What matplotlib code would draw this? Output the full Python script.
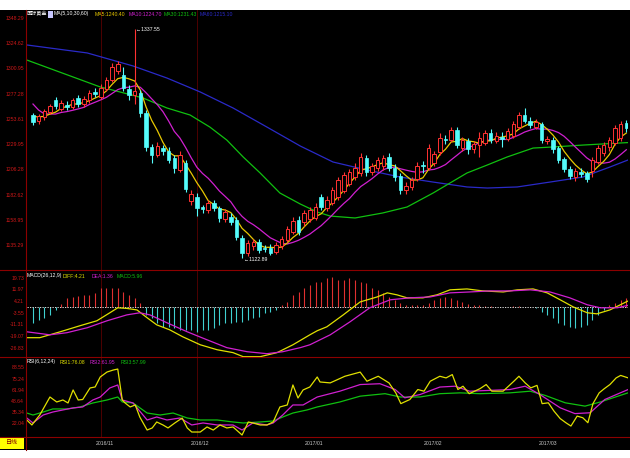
import numpy as np
import pandas as pd
import matplotlib
matplotlib.use("Agg")
import matplotlib.pyplot as plt
from matplotlib.patches import Rectangle
from matplotlib.lines import Line2D

W, H = 630, 458

# ---------------- data ----------------
opens = [1257,1252,1255,1260,1271,1263,1267,1265,1273,1268,
         1271,1279,1274,1282,1290,1299,1295,1282,1276,1278,
         1259,1227,1220,1226,1224,1217,1206,1212,1177,1180,
         1171,1168,1175,1170,1160,1162,1159,1142,1128,1134,
         1138,1133,1133,1129,1134,1140,1148,1159,1157,1160,
         1161,1180,1170,1175,1180,1186,1193,1199,1203,1217,
         1204,1208,1209,1218,1208,1200,1187,1190,1197,1210,
         1208,1212,1223,1235,1234,1243,1226,1233,1225,1229,
         1231,1240,1233,1237,1235,1238,1246,1257,1252,1246,
         1249,1233,1234,1226,1216,1207,1199,1204,1203,1205,
         1213,1222,1227,1231,1236,1250]
highs = [1259,1258,1263,1268,1274,1271,1270,1273,1276,1275,
         1281,1283,1286,1293,1306,1308,1302,1285,1337.55,1281,
         1262,1230,1232,1229,1227,1220,1224,1215,1187,1184,
         1173,1178,1178,1172,1169,1165,1162,1145,1140,1141,
         1141,1135,1136,1138,1144,1153,1162,1163,1168,1171,
         1175,1183,1181,1190,1199,1204,1207,1212,1222,1220,
         1212,1218,1220,1222,1211,1203,1194,1199,1213,1214,
         1230,1224,1240,1239,1246,1246,1237,1236,1233,1241,
         1243,1244,1241,1241,1245,1252,1260,1264,1255,1254,
         1251,1238,1237,1228,1218,1209,1208,1208,1205,1218,
         1229,1232,1237,1248,1252,1253]
lows = [1248,1249,1253,1258,1263,1261,1262,1263,1265,1265,
        1269,1274,1272,1280,1288,1296,1280,1271,1268,1255,
        1224,1212,1218,1220,1212,1203,1204,1185,1173,1163,
        1165,1165,1167,1157,1157,1154,1140,1122.89,1125,1131,
        1128,1129,1126,1127,1132,1138,1146,1145,1153,1157,
        1159,1168,1167,1173,1178,1184,1191,1196,1200,1200,
        1201,1205,1206,1205,1195,1183,1183,1187,1195,1203,
        1206,1209,1220,1230,1232,1226,1224,1221,1222,1218,
        1229,1231,1231,1227,1233,1236,1244,1250,1245,1244,
        1231,1230,1222,1212,1204,1197,1195,1199,1194,1199,
        1211,1219,1224,1229,1233,1241]
closes = [1251,1256,1261,1266,1266,1269,1265,1271,1268,1272,
          1278,1277,1283,1290,1302,1305,1283,1276,1280,1259,
          1227,1220,1228,1224,1215,1208,1220,1188,1183,1170,
          1169,1175,1170,1161,1166,1157,1143,1128,1137,1138,
          1131,1132,1128,1135,1141,1150,1158,1148,1165,1168,
          1171,1171,1178,1187,1196,1201,1204,1208,1218,1204,
          1209,1215,1217,1208,1199,1187,1191,1196,1209,1209,
          1226,1221,1236,1234,1243,1229,1234,1225,1230,1236,
          1240,1234,1238,1235,1242,1249,1257,1252,1248,1251,
          1234,1235,1225,1215,1207,1200,1205,1202,1197,1215,
          1226,1229,1234,1245,1249,1245]
prior_closes = [1313,1296,1268,1266,1254,1257,1259,1255,1257]

ma30_idx = [-1.1, 11.9, 15.4, 19.5, 23.7, 27.8, 31.3, 34.3, 37.2, 40.2, 43.7, 47.3, 50.3,
            52.6, 57.0, 61.9, 66.2, 70.8, 73.8, 76.8, 80.4, 83.9, 88.5, 92.0, 97.3, 105.3]
ma30_val = [1308.9, 1283.6, 1278.9, 1273.2, 1263.9, 1257.3, 1246.0, 1233.8, 1217.9, 1202.9,
            1184.1, 1173.8, 1166.3, 1162.5, 1160.7, 1165.4, 1171.0, 1184.1, 1193.5, 1202.9,
            1210.4, 1217.9, 1226.3, 1227.3, 1229.1, 1231.43]
ma60_idx = [-1.1, 9.6, 17.7, 23.7, 29.6, 35.4, 41.4, 47.3, 53.1, 59.1, 65.0, 70.8, 76.8,
            80.4, 85.7, 91.5, 97.3, 102.1, 105.3]
ma60_val = [1323.0, 1315.5, 1303.3, 1292.0, 1278.9, 1263.9, 1246.0, 1228.2, 1213.2, 1205.7,
            1199.1, 1194.4, 1189.8, 1188.8, 1189.8, 1194.4, 1199.1, 1208.5, 1215.1]

dif_idx = [-1.1, 1.2, 4.8, 8.3, 11.3, 13.6, 15.0, 16.6, 18.4, 20.2, 21.9, 24.2, 26.5, 29.6,
           32.6, 35.4, 37.2, 40.2, 43.2, 46.0, 49.0, 50.3, 52.0, 54.9, 57.9, 60.9, 62.7, 64.4,
           66.2, 69.0, 71.5, 73.8, 76.8, 79.6, 83.2, 85.7, 88.5, 91.0, 93.3, 95.6, 98.1, 99.8,
           102.1, 105.3]
dif_val = [-20.1, -20.1, -16.2, -12.2, -8.9, -3.6, -0.3, -0.7, -1.7, -6.9, -11.6, -14.9, -19.5,
           -24.8, -28.1, -30.0, -32.7, -32.7, -30.0, -24.8, -18.2, -15.5, -12.9, -5.0, 3.6, 6.9,
           9.6, 8.3, 6.3, 6.3, 8.3, 11.6, 12.2, 10.9, 10.2, 11.6, 12.2, 9.6, 5.0, 0.3, -3.6, -4.3,
           -1.7, 4.21]
dea_idx = [-1.1, 3.0, 6.0, 9.6, 13.1, 16.6, 18.9, 20.7, 23.7, 27.3, 30.8, 34.3, 37.9, 41.4,
           44.2, 47.3, 49.0, 52.6, 56.1, 59.6, 63.2, 66.7, 70.3, 73.8, 77.3, 80.9, 84.4, 88.0,
           91.5, 95.0, 98.1, 100.4, 103.4, 105.3]
dea_val = [-16.2, -18.2, -16.8, -13.5, -8.9, -5.0, -3.6, -5.0, -10.2, -16.2, -21.5, -26.7,
           -29.4, -30.7, -29.4, -26.7, -24.8, -18.2, -9.6, -0.3, 5.0, 6.3, 6.9, 9.6, 10.2, 10.9,
           10.9, 11.6, 10.2, 6.3, 1.7, -0.3, -0.3, 1.36]
macd_hist = [-10.2, -8.3, -6.9, -5.0, -1.5, 2.0, 6.3, 6.9, 7.6, 8.3,
             8.3, 9.6, 12.9, 12.9, 12.9, 12.9, 10.2, 8.3, 6.3, 3.0,
             -5.0, -6.9, -10.2, -12.9, -12.9, -13.5, -14.9, -14.9, -14.9, -16.2,
             -14.9, -14.9, -13.5, -11.6, -10.2, -10.2, -9.6, -9.6, -8.3, -6.9,
             -6.3, -3.6, -3.0, -1.7, 1.7, 3.6, 8.3, 10.2, 12.9, 14.9,
             16.8, 16.8, 19.5, 20.1, 18.2, 18.2, 19.5, 18.2, 16.8, 16.2,
             12.9, 11.6, 9.6, 6.9, 5.0, 3.0, 1.7, 1.3, 1.7, 1.7,
             3.0, 5.0, 6.3, 6.9, 6.3, 5.0, 3.6, 2.3, 1.7, 1.3,
             1.0, 0.6, 0.4, 0.5, 0.3, 0.6, 0.8, 0.5, 0.2, -0.5,
             -3.0, -5.0, -6.9, -10.2, -11.6, -12.9, -13.5, -12.9, -11.6, -8.3,
             -5.0, -1.7, 1.7, 3.0, 5.0, 5.96]

rsi1_idx = [-1.1, -0.2, 1.2, 3.0, 4.2, 5.3, 6.2, 7.1, 8.0, 8.8,
            10.1, 11.0, 11.9, 13.1, 14.2, 15.0, 15.8, 16.3, 17.2, 18.1,
            18.9, 20.2, 21.1, 21.9, 23.0, 23.9, 25.1, 26.4, 27.3, 28.1,
            29.6, 30.8, 31.9, 33.1, 34.3, 35.4, 37.0, 38.1, 38.9, 40.2,
            41.4, 42.5, 43.7, 45.0, 46.0, 46.9, 47.8, 49.0, 50.3, 50.8,
            52.6, 55.2, 57.9, 59.1, 61.1, 63.0, 64.2, 65.1, 66.7, 68.1,
            69.2, 70.3, 72.0, 73.1, 74.2, 75.2, 76.1, 77.2, 79.1, 80.2,
            81.2, 83.2, 85.1, 86.0, 87.1, 88.1, 89.2, 90.1, 91.2, 92.2,
            93.3, 94.3, 95.2, 96.3, 97.3, 98.2, 99.1, 100.2, 101.1, 102.1,
            103.2, 104.0, 105.3]
rsi1_val = [25.3, 19.3, 31.3, 53.0, 47.0, 49.4, 45.8, 61.5, 49.4, 50.0,
            63.9, 65.1, 77.1, 83.1, 85.5, 86.7, 49.4, 45.8, 41.0, 43.4,
            28.9, 13.2, 15.7, 22.9, 19.3, 15.7, 21.7, 27.7, 15.7, 10.8,
            10.8, 16.9, 13.2, 19.3, 15.7, 16.9, 7.2, 22.9, 21.7, 19.3,
            19.3, 22.9, 41.0, 43.4, 67.5, 51.8, 61.5, 65.1, 77.1, 71.1,
            70, 78, 83, 72, 78, 70, 58, 45, 50, 62,
            60, 72, 78, 76, 80, 62, 66, 57, 63, 68,
            60, 60, 72, 78, 70, 64, 67, 45, 46, 36,
            27, 22, 18, 30, 28, 22, 45, 58, 63, 68,
            76, 79, 76.08]
rsi2_idx = [-1.1, 0, 1.8, 3.5, 5.3, 7.1, 8.8, 10.6, 11.9, 13.6,
            15.0, 15.8, 17.7, 20.2, 21.9, 23.7, 26.0, 28.1, 30.1, 32.6,
            35.4, 37.0, 38.9, 41.4, 42.5, 44.2, 46.0, 47.8, 50.3, 54.3,
            57.9, 61.4, 64.1, 65.8, 68.5, 72.0, 74.7, 77.3, 80.9, 84.4,
            87.1, 89.7, 93.3, 95.9, 98.6, 101.2, 105.3]
rsi2_val = [27.7, 21.7, 31.3, 34.9, 37.4, 39.8, 41.0, 49.4, 53.0, 63.9,
            67.5, 49.4, 45.8, 25.3, 28.9, 25.3, 27.7, 19.3, 21.7, 19.3,
            19.3, 13.2, 21.7, 19.3, 21.7, 31.3, 43.4, 43.4, 53.0, 60,
            68, 69, 62, 52, 56, 65, 66, 60, 61, 62,
            66, 56, 40, 33, 34, 50, 61.95]
rsi3_idx = [-1.1, 0, 1.8, 3.5, 6.0, 8.3, 10.6, 13.1, 15.0, 15.8,
            17.7, 20.2, 22.5, 24.8, 27.3, 29.6, 32.6, 35.4, 37.2, 40.2,
            42.5, 44.2, 46.0, 48.5, 50.3, 54.3, 57.9, 62.3, 65.0, 68.5,
            72.0, 75.6, 79.1, 84.4, 88.0, 90.6, 94.2, 97.7, 100.4, 105.3]
rsi3_val = [33.7, 31.3, 34.9, 38.6, 38.6, 41.0, 45.8, 49.4, 53.0, 47.0,
            45.8, 33.7, 31.3, 33.7, 27.7, 25.3, 25.3, 22.9, 21.7, 22.9,
            24.1, 28.9, 33.7, 37.4, 41.0, 47, 54, 57, 53, 53,
            57, 58, 57, 58, 60, 55, 46, 42, 47, 57.99]

price_ticks = [1348.29, 1324.62, 1300.95, 1277.28, 1253.61, 1229.95, 1206.28, 1182.62, 1158.95, 1135.29]
macd_ticks = [19.73, 11.97, 4.21, -3.55, -11.31, -19.07, -26.83]
rsi_ticks = [88.55, 75.24, 61.94, 48.64, 35.34, 22.04]
date_labels = ["2016/11", "2016/12", "2017/01", "2017/02", "2017/03"]
date_pos = [12.8, 29.6, 49.7, 70.8, 91.2]
month_start_idx = [12, 29]
hi_idx, hi_val = 18, 1337.55
lo_idx, lo_val = 37, 1122.89

# ---------------- styling ----------------
RED = "#FF3232"
CYAN = "#54FCFC"
FRAME = "#8C0000"
LBL = "#D01818"
C_MA5, C_MA10, C_MA30, C_MA60 = "#E8C800", "#D020D0", "#10C010", "#2A2AC8"
XL = (-1.06, 105.3)
FS = 3.7
SANS = ["Liberation Sans", "DejaVu Sans"]
CJK = ["Noto Sans CJK SC", "DejaVu Sans"]

fig = plt.figure(figsize=(W / 100, H / 100), dpi=100, facecolor="white")
fig.patches.append(Rectangle((0, 1 - 450 / H), 1, 440 / H, transform=fig.transFigure,
                             facecolor="black", edgecolor="none", zorder=-10))


def px_axes(x0, y0, x1, y1):
    ax = fig.add_axes([x0 / W, 1 - y1 / H, (x1 - x0) / W, (y1 - y0) / H])
    ax.set_facecolor("none")
    for s in ax.spines.values():
        s.set_visible(False)
    ax.set_xlim(*XL)
    ax.set_xticks([])
    ax.tick_params(axis="y", length=0, pad=2, labelsize=FS, labelcolor=LBL)
    return ax


def set_labels(ax, ticks):
    ax.set_yticks(ticks)
    ax.set_yticklabels([f"{v:.2f}" for v in ticks], family=SANS)


def hline(y, x0=0, x1=630, **kw):
    fig.add_artist(Line2D([x0 / W, x1 / W], [1 - y / H, 1 - y / H], transform=fig.transFigure, **kw))


def vline(x, y0, y1, **kw):
    fig.add_artist(Line2D([x / W, x / W], [1 - y0 / H, 1 - y1 / H], transform=fig.transFigure, **kw))


def ftext(x, y, s, color, **kw):
    kw.setdefault("family", SANS)
    fig.text(x / W, 1 - y / H, s, color=color, fontsize=FS, va="center", **kw)


idx = np.arange(len(closes))
o = np.array(opens, float); c = np.array(closes, float)
h = np.array(highs, float); l = np.array(lows, float)
up = c >= o

allc = pd.Series(prior_closes + closes, dtype=float)
ma5 = allc.rolling(5).mean().values[len(prior_closes):]
ma10 = allc.rolling(10).mean().values[len(prior_closes):]

# ---------------- main panel ----------------
ax = px_axes(27, 10, 628, 270)
ax.set_ylim(1111.9, 1355.8)
set_labels(ax, price_ticks)
for m in month_start_idx:
    ax.axvline(m, color="#5A0000", lw=0.6, zorder=1)
ax.plot(ma60_idx, ma60_val, color=C_MA60, lw=0.9, zorder=2)
ax.plot(ma30_idx, ma30_val, color=C_MA30, lw=0.9, zorder=2)
ax.plot(idx, ma10, color=C_MA10, lw=0.9, zorder=2)
ax.plot(idx, ma5, color=C_MA5, lw=0.9, zorder=2)
col = np.where(up, RED, CYAN)
ax.vlines(idx, l, h, colors=col, lw=0.8, zorder=3)
bw = 0.62
for i in idx:
    bot = min(o[i], c[i]); ht = max(abs(c[i] - o[i]), 0.6)
    if up[i]:
        ax.add_patch(Rectangle((i - bw / 2, bot), bw, ht, facecolor="black", edgecolor=RED, lw=0.7, zorder=4))
    else:
        ax.add_patch(Rectangle((i - bw / 2, bot), bw, ht, facecolor=CYAN, edgecolor=CYAN, lw=0.5, zorder=4))
ax.text(hi_idx + 0.3, hi_val, "←" + f"{hi_val:.2f}", color="white", fontsize=FS, va="center", ha="left",
        family=SANS)
ax.text(lo_idx + 0.3, lo_val - 1, "←" + f"{lo_val:.2f}", color="white", fontsize=FS, va="center", ha="left",
        family=SANS)

# header
ftext(27, 14, "国际黄金", "white", family=CJK)
fig.patches.append(Rectangle((48 / W, 1 - 17.5 / H), 5 / W, 7 / H, transform=fig.transFigure,
                             facecolor="#C8C8FF", edgecolor="none"))
ftext(54, 14, "MA(5,10,30,60)", "white")
ftext(95, 14, f"MA5:{ma5[-1]:.2f}", C_MA5)
ftext(129, 14, f"MA10:{ma10[-1]:.2f}", C_MA10)
ftext(164, 14, f"MA30:{ma30_val[-1]:.2f}", C_MA30)
ftext(200, 14, f"MA60:{ma60_val[-1]:.2f}", C_MA60)

# ---------------- MACD panel ----------------
ax2 = px_axes(27, 270, 628, 357)
ax2.set_ylim(-32.9, 24.75)
set_labels(ax2, macd_ticks)
for m in month_start_idx:
    ax2.axvline(m, color="#5A0000", lw=0.6, zorder=0)
hist = np.array(macd_hist)
ax2.vlines(idx, 0, hist, colors=np.where(hist >= 0, "#E03030", "#40D0D0"), lw=0.8)
ax2.axhline(0, color="white", lw=0.6, ls=(0, (1.5, 1.5)))
ax2.plot(dif_idx, dif_val, color="#E0E000", lw=0.9)
ax2.plot(dea_idx, dea_val, color="#D020D0", lw=0.9)
ftext(27, 276, "MACD(26,12,9)", "white")
ftext(63, 276, f"DIFF:{dif_val[-1]:.2f}", "#E0E000")
ftext(92, 276, f"DEA:{dea_val[-1]:.2f}", "#D020D0")
ftext(117, 276, f"MACD:{macd_hist[-1]:.2f}", "#10C010")

# ---------------- RSI panel ----------------
ax3 = px_axes(27, 357, 628, 437)
ax3.set_ylim(4.8, 101.2)
set_labels(ax3, rsi_ticks)
for m in month_start_idx:
    ax3.axvline(m, color="#5A0000", lw=0.6, zorder=0)
ax3.plot(rsi3_idx, rsi3_val, color="#10C010", lw=0.9)
ax3.plot(rsi2_idx, rsi2_val, color="#D020D0", lw=0.9)
ax3.plot(rsi1_idx, rsi1_val, color="#E0E000", lw=0.9)
ftext(27, 362, "RSI(6,12,24)", "white")
ftext(60, 362, f"RSI1:{rsi1_val[-1]:.2f}", "#E0E000")
ftext(90, 362, f"RSI2:{rsi2_val[-1]:.2f}", "#D020D0")
ftext(121, 362, f"RSI3:{rsi3_val[-1]:.2f}", "#10C010")

# ---------------- date axis ----------------
ax4 = px_axes(27, 437, 628, 450)
ax4.set_ylim(0, 1)
ax4.set_yticks([])
for p, t in zip(date_pos, date_labels):
    ax4.text(p, 0.5, t, color="#C8C8C8", fontsize=FS, ha="center", va="center", family=SANS)
fig.patches.append(Rectangle((0, 1 - 449 / H), 24 / W, 12 / H, transform=fig.transFigure,
                             facecolor="#FFFF00", edgecolor="none"))
fig.text(12 / W, 1 - 443 / H, "日线", color="#800000", fontsize=4.3, ha="center", va="center", family=CJK)

# frame lines
for y in [270, 357, 437]:
    hline(y, 0, 630, color=FRAME, lw=0.8)
vline(26, 10, 450, color=FRAME, lw=0.8)

fig.savefig("out.png", dpi=100, facecolor="white")
